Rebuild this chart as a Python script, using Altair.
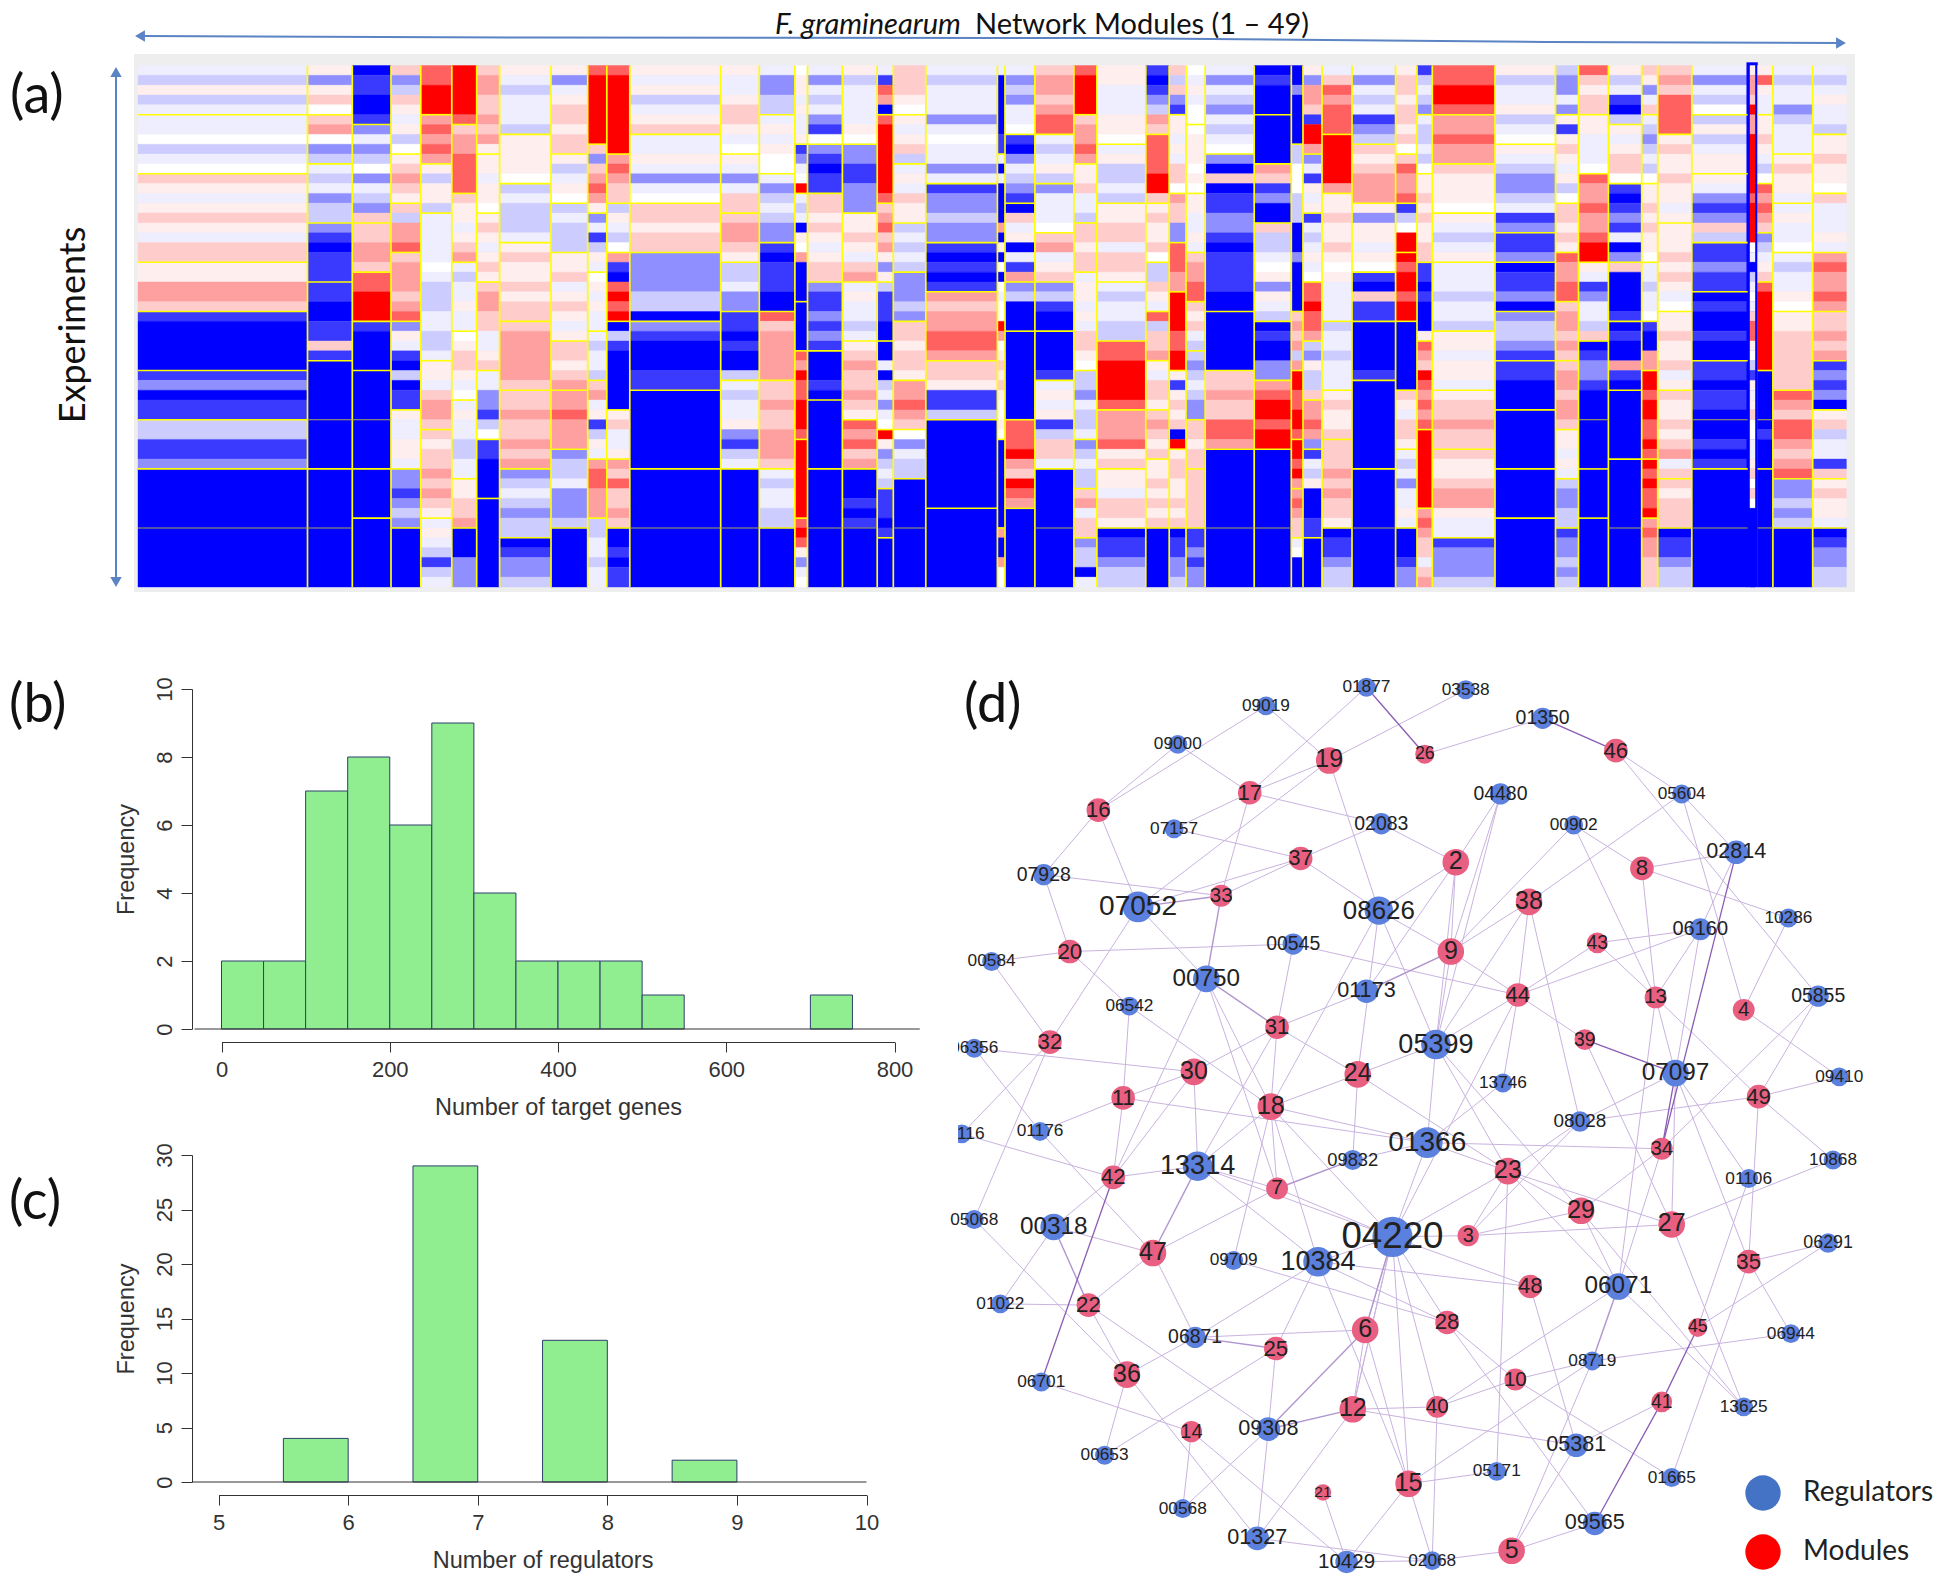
import math
import altair as alt
import pandas as pd

# ---------- (a) heat map: module boundaries and per-row expression levels ----------
MODULE_EDGES = [138, 307.5, 352.3, 391, 420.8, 451.8, 476.7, 499.6, 551, 587.7, 606.8, 629.8,
                720.7, 759.3, 794.9, 807.5, 842.4, 877.2, 893.3, 925.8, 997.4, 1005, 1034.9,
                1073.9, 1096.9, 1145.8, 1169.2, 1186, 1205.2, 1254.2, 1291.3, 1303, 1322, 1352,
                1395.6, 1417, 1432.3, 1495, 1555.5, 1578.5, 1608.4, 1641.7, 1657.7, 1691.8,
                1747.7, 1757.6, 1772.9, 1812.7, 1846.4]
THIN_MODULE = 44
THIN_CORE = [1750, 1755]
MODULE_ROWS = [
 "abpba|aawbaw|qpapqpaqq|ppssq|deeeee|dcedd|bbddc|eeeeee|eeeeee",
 "pcpqw|qswcb|abacbb|cdeddd|ddeeddqd|eeeeee|eeeee|eeeeee|eeeeee",
 "eddeed|cacbwcabcq|qqssq|ttuuu|deeee|eeeee|eeeee|eeeee|eeeeeee",
 "qcbqpapbw|pqsqp|qbsst|qsssqst|cpadebedd|paappa|ccdcbc|eeeeee",
 "ttuuu|ststs|pbppb|aaaaawabbbaabba|ppaqssq|qpqqsqsqp|apabdba",
 "uuuuut|qsstttt|qppapqs|abaapaa|wpqqpaw|apaabbaa|ppqqs|eeeccc",
 "qssqqsqsp|ppappw|pqpapqp|qssqqaapq|aaccdbw|ddeeee|eeeeeeeee",
 "pabaaab|ppppw|babbba|pqppqpqq|qsssssq|qqsqqsqs|cbabcbb|edccb",
 "pcapqqpqq|pbapw|babbb|ppqapqpap|qqpqs|sstsss|cbbacccb|eeeeee",
 "tuuuuuuu|qcqstsp|cadbpa|wpapaa|abaab|qsapdbpa|sttsss|bbaabaa",
 "tuuuuuuuu|stsqq|bpabw|sdetutu|ebdeeeeee|pqaap|sqtqqsq|eededd",
 "papbapq|aapacaw|qqpqq|ccccbbe|cdeeedd|eeeeeeee|eeeeee|eeeeee",
 "paapqqpaw|pacaqq|qssqp|bbacc|ddedeeb|abaapcdba|eeeeee|eeeeee",
 "accbb|apapww|acbabcc|dedddee|tqsssss|qqsqqsssq|abaabb|eeeeee",
 "wppapaap|dcawu|abaepwseeee|eeeee|tsuttuuut|uuuuuuuu|tutpcaw",
 "acabacdw|cdedd|qqpqpapqq|cddcdcd|eeede|eeeeeee|eeeeee|eeeeee",
 "pbaaaapw|ccddccc|ppqpaqs|apaaba|pqsqqsqp|tstqs|eeeded|eeeeee",
 "adtse|tuuuuuuut|qstqspcp|bdddee|eeaebacaw|upcbab|ddded|eeeee",
 "qqqpw|papqb|apaqpp|babab|cccbc|qqpqqp|sstsq|wcabb|eeeee|eeeeee",
 "abaaacawaaca|dccbcc|deded|sqsstts|qqpddb|eeeeeeeee|eeeeeeee",
 "aeeeeeedd|aeaeeeesepewewawwuswpqpqpwwpw|eeeeeeeee|seesww",
 "acbcaaw|decabcd|eqapeads|cbeee|eeeeeeeee|tttusquts|eeeeeeee",
 "qssqstt|abapb|caaaw|qsapq|cbdee|eeeed|apapdbqqa|eeeeee|eeeeee",
 "tuuuu|qssts|ppqaab|qqpqq|appapaqqpw|bbcabba|cbabb|qsaqq|cbbea",
 "ppaaappw|apbbab|ppqqaqqp|abaabb|ttuuuut|ssstpq|ppaqqp|eddcbb",
 "dedcbsq|ttttuuq|pqppqw|bbqpa|tbqqs|paqqp|qsqpq|ppqpqpq|eeeeee",
 "qbqcd|ppapaqqw|sqqcc|tttss|uuuuttuu|pdpqpqeu|pqqppqpq|eddccb",
 "wapaww|wpppwpw|ppaapa|qsstt|qpqab|bcbabcc|qqpqq|qqqqqq|ddcdcc",
 "acabcabaw|ceqeddccdeddddee|eeeeee|qqsqqtts|eeeeeeee|eeeeee",
 "edeee|eeeee|sqdcee|qbbawpcpab|edeecc|stuutuu|eeeeeeee|eeeeee",
 "eeceeeee|bbwwwbbbeeeceeeee|qsqsbs|uuttuut|uutus|stsqq|aweee",
 "pcssqduus|cadpap|dabapaw|ttutts|bcpbbq|sstsc|dabpeeedd|eeeee",
 "aqtsttt|uuuuus|ppqppqpwpaaaa|baabaaa|pqppq|qqqsqsqqp|eddcbb",
 "acabadcb|qpqsss|pcppapw|deqdd|eeeeed|eeeeeeeee|eeeeee|eeeeee",
 "pqqpqqpqw|qtsst|dbwuu|utuutuu|eeeeeee|qpaqqp|abacaapa|eeedcc",
 "dbabc|abbabw|ppqpqppqq|ddedeeep|tsqutstst|uuuuuuuu|stsqqaqs",
 "ttuut|sstss|qpppw|pabap|aaabaab|ppappa|pqqsqq|qppqsspaa|dcccb",
 "pbaapbaw|pabccbadc|ddc|eddce|cbbcd|ddeee|eeeeee|eeeee|eeeeeee",
 "bccac|pdpqpapbw|qqpqp|tsstt|qssqsq|qssqssq|ppapa|bccbb|dccbcb",
 "tqpqq|ppaaaw|tsstsstuu|padcaabq|edccdeee|eeeee|eeeee|eeeeeee",
 "pbadeb|papqqw|dedcdaec|qeeeed|edeesde|eeeeeee|eeeeeee|eeeeee",
 "qpcaq|abcbabw|ppqpqppw|aabaaw|deess|uutuuttut|ututtu|stssqqq",
 "qsqtttt|pqppqppap|pppqpqpaw|ppqppqap|qppqpqsaq|qpqqq|eddcbb",
 "acabw|bpbapp|pacdcqb|ddcdd|edeedee|ddedde|eeded|eeeeee|eeeeee",
 "pssqussuuuuuutuuuuwaebawaqttpwbdpapqwwaapqwqweeeeeeee",
 "ptpaa|ppqpabw|tstsq|cbapq|tuuuuuuuu|eeeee|edeee|eeeeee|eeeeee",
 "abaacbaaa|pqppa|apaaw|abaapw|ppqqqqqq|tsqttsqst|ccbcb|eeeeee",
 "abapaab|ppqppw|qaaapa|stssts|qqsqs|dcdce|pqbaadq|pqppa|edccbb",
]
LEVELS = list("wabcdepqstu")
LEVEL_COLORS = ["#ffffff", "#eeeeff", "#ccccff", "#8f8fff", "#3a3aff", "#0000ff",
                "#ffeeee", "#ffcccc", "#ffa0a0", "#ff6060", "#ff0000"]

# ---------- (b), (c) histograms ----------
GENE_BIN_START = [0, 50, 100, 150, 200, 250, 300, 350, 400, 450, 500, 700]
GENE_BIN_END = [50, 100, 150, 200, 250, 300, 350, 400, 450, 500, 550, 750]
GENE_FREQ = [2, 2, 7, 8, 6, 9, 4, 2, 2, 2, 1, 1]
REG_BIN_START = [5.5, 6.5, 7.5, 8.5]
REG_BIN_END = [6, 7, 8, 9]
REG_FREQ = [4, 29, 13, 2]

# ---------- (d) network: layout position and weight of every node ----------
REG_NAMES = ["09019","01877","03538","01350","09000","04480","05604","07157","02083","00902",
             "07928","02814","07052","08626","10286","06160","00584","00545","00750","01173",
             "05855","06542","05399","06356","13746","07097","09410","08028","01176","01116",
             "01366","13314","09832","10868","01106","05068","00318","04220","10384","09709",
             "06291","06071","01022","06871","06944","08719","06701","13625","09308","05381",
             "00653","05171","01665","00568","09565","01327","10429","02068"]
REG_X = [1020,1101,1181,1243,949,1209,1355,946,1113,1268,841,1399,917,1111,1441,1370,799,1042,972,1101,
         1465,910,1157,785,1211,1350,1482,1273,838,775,1150,965,1090,1477,1409,785,849,1122,1062,994,
         1473,1304,806,963,1443,1283,839,1405,1022,1270,890,1206,1347,953,1285,1013,1085,1154]
REG_Y = [569,554,556,579,600,640,640,668,664,665,705,687,731,734,740,749,775,761,789,799,
         803,811,842,845,873,865,868,904,912,914,921,940,935,935,950,983,989,997,1017,1016,
         1002,1037,1051,1078,1075,1097,1114,1134,1152,1165,1173,1186,1191,1216,1228,1240,1259,1258]
REG_W = [32,32,32,36,32,36,32,32,36,32,36,40,52,48,32,37,32,36,45,40,
         36,32,50,32,32,45,32,35,32,32,52,50,34,32,32,32,45,68,50,32,
         33,45,32,36,32,32,32,32,40,40,32,32,32,32,40,40,38,32]
MOD_NAMES = ["19","26","46","17","16","37","2","8","33","38","9","20","43","44","13","4","31","39",
             "32","30","24","11","18","49","34","42","23","7","29","27","3","47","48","35","22","6",
             "28","45","25","36","10","12","40","41","14","21","15","5"]
MOD_X = [1071,1148,1302,1007,885,1048,1173,1323,984,1232,1169,862,1287,1223,1334,1405,1029,1277,
         846,962,1094,905,1024,1417,1339,897,1215,1029,1274,1347,1183,929,1233,1409,877,1100,
         1166,1368,1028,908,1221,1090,1158,1339,960,1066,1135,1218]
MOD_Y = [613,608,605,639,653,692,695,700,722,727,767,767,760,802,804,814,828,838,
         840,864,866,885,892,884,926,949,944,958,976,987,996,1010,1037,1017,1052,1072,
         1066,1070,1087,1108,1112,1136,1134,1130,1154,1203,1196,1250]
MOD_W = [45,32,40,40,40,40,45,40,37,45,45,40,35,40,37,37,40,35,
         40,45,45,40,45,40,37,40,45,37,45,45,36,45,40,40,40,45,
         40,32,40,45,37,45,37,35,36,28,45,45]
EDGES = """19-09019 19-03538 19-17 19-07052 19-08626 17-09000 17-01877 17-07157 17-02083 17-33
16-09000 16-09019 16-07928 16-07052 26-01350 46-05604 46-05855 37-07157 37-02083 37-07052 37-08626
2-02083 2-08626 2-04480 2-9 2-01173 2-05399 33-07928 33-37 20-07928 20-00584 20-00545 20-06542
32-00584 32-07052 32-01116 32-05068 06356-30 06356-01176 11-01176 11-30 11-06542 11-01366 11-42
30-31 30-13314 30-42 00750-07052 00750-42 00750-18 00750-7 31-00545 31-01173 31-24 31-13314 31-18
06542-18 24-18 24-08626 24-05399 24-23 24-09832 18-01366 18-04220 18-7 18-13314 00545-44 01173-9
08626-9 08626-05399 08626-18 05399-9 05399-44 05399-38 05399-23 05399-29 05399-01366 05399-04480
9-38 9-00902 9-04480 9-44 38-05604 38-44 38-08028 43-06160 43-44 43-13 44-06160 44-13746 44-04220
13-00902 13-8 13-06160 13-07097 13-49 13-06071 8-00902 8-02814 8-10286 4-05604 4-10286 4-09410
39-44 39-27 49-05855 49-09410 49-08028 49-35 49-10868 07097-06160 07097-08028 07097-27
07097-01106 07097-35 05855-34 02814-05604 02814-06160 10868-27 01106-45 34-01366 34-29 34-06071
23-01366 23-08028 23-29 23-27 23-06071 23-04220 23-3 23-05171 3-29 3-27 3-04220 3-08028 29-06071
29-13625 27-13625 48-04220 48-05381 35-06291 35-06944 35-01665 45-06291 06071-40 06071-13625
10-28 10-08719 10-01665 10-40 28-09565 28-04220 28-10384 28-09709 41-05381 08719-06944 08719-5
08719-15 05381-5 05381-12 05171-15 40-04220 40-02068 40-12 15-04220 15-6 15-10429 15-02068 15-10384
12-6 12-01327 12-04220 25-10384 25-09308 25-00653 36-06871 36-00653 36-22 36-01327 14-06701
14-00568 14-10429 21-10429 22-01022 22-47 22-09308 47-00318 47-7 47-06871 47-01176 42-01116 42-13314
42-00318 05068-36 01022-00318 00568-09308 09308-01327 01327-02068 10429-02068 5-02068 5-09565
09709-18 10384-13314 10384-04220 10384-18 10384-06871 10384-48 7-04220 09832-01366 13746-01366
04220-01366 04220-6 04220-12 06871-6 13314-7 13314-04220""".split()
DOUBLE_EDGES = """33-07052 33-00750 31-00750 06071-08719 22-00318 47-13314 7-09832 25-06871 12-09308
6-09308 6-04220 01173-9""".split()
STRONG_EDGES = """26-01877 46-01350 39-07097 02814-34 07097-34 45-41 41-09565 42-06701""".split()

REG_COLOR, MOD_COLOR = "#5b80de", "#e85f82"
AXIS_COLOR, TEXT_COLOR = "#333333", "#222222"
ARROW_COLOR = "#5b84c4"
SANS = "Liberation Sans"
HEAD = "Lato"
W, H = 1930, 1567
M = 8  # page margin


def sx(lo, hi, a, b):
    return alt.Scale(domain=[lo, hi], range=[a - M, b - M], nice=False, zero=False)


REF_X = sx(0, 1568, 0, 1946)
REF_Y = sx(0, 1276, 0, 1583)
ROW_Y = sx(0, 53, 65.5, 587)
PIX_X = sx(0, 1946, 0, 1946)
PIX_Y = sx(0, 1583, 0, 1583)

# ---------- build heat map tables ----------
cells, hlines = [], []
for i, spec in enumerate(MODULE_ROWS):
    x0, x1 = MODULE_EDGES[i], MODULE_EDGES[i + 1]
    if i == THIN_MODULE:
        cells.append(dict(x=x0 - 1, x2=x1, r=-0.3, r2=53, lv="e"))
        x0, x1 = THIN_CORE
    row = 0
    flat = spec.replace("|", "")
    for seg in spec.split("|"):
        j = 0
        while j < len(seg):
            k = j
            while k < len(seg) and seg[k] == seg[j]:
                k += 1
            cells.append(dict(x=x0, x2=x1, r=row + j, r2=row + k, lv=seg[j]))
            j = k
        row += len(seg)
        if row < 53 and i != THIN_MODULE:
            solid = flat[row - 1] in "de" and flat[row] in "de"
            hlines.append(dict(x=x0, x2=x1, r=row, faint="y" if solid and row in (36, 47) else "n"))
cells = pd.DataFrame(cells)
hlines = pd.DataFrame(hlines)
vlines = pd.DataFrame(dict(x=[e for n, e in enumerate(MODULE_EDGES) if 0 < n < len(MODULE_EDGES) - 1
                              and n not in (THIN_MODULE, THIN_MODULE + 1)]))
vlines["r"] = 0
vlines["r2"] = 53

layers = []

# panel background
layers.append(alt.Chart(pd.DataFrame(dict(x=[134], x2=[1855], y=[54], y2=[592]))).mark_rect(color="#eeeeee").encode(
    x=alt.X("x:Q", scale=PIX_X, axis=None), x2="x2:Q", y=alt.Y("y:Q", scale=PIX_Y, axis=None), y2="y2:Q"))
level_scale = alt.Scale(domain=LEVELS, range=LEVEL_COLORS)
layers.append(alt.Chart(cells).mark_rect(strokeWidth=0.4).encode(
    x=alt.X("x:Q", scale=PIX_X, axis=None), x2="x2:Q",
    y=alt.Y("r:Q", scale=ROW_Y, axis=None), y2="r2:Q",
    color=alt.Color("lv:N", scale=level_scale, legend=None),
    stroke=alt.Stroke("lv:N", scale=level_scale, legend=None)))
layers.append(alt.Chart(vlines).mark_rule(color="#ffff00", strokeWidth=1.7).encode(
    x=alt.X("x:Q", scale=PIX_X, axis=None),
    y=alt.Y("r:Q", scale=ROW_Y, axis=None), y2="r2:Q"))
for flag, col, sw in (("n", "#ffff00", 1.6), ("y", "#a8a850", 1.1)):
    layers.append(alt.Chart(hlines[hlines["faint"] == flag]).mark_rule(color=col, strokeWidth=sw).encode(
        x=alt.X("x:Q", scale=PIX_X, axis=None), x2="x2:Q",
        y=alt.Y("r:Q", scale=ROW_Y, axis=None)))

# arrows
arrow_h = pd.DataFrame(dict(x=[142, 535, 1090, 1545, 1838], y=[36, 37.5, 38, 42, 43]))
arrow_v = pd.DataFrame(dict(x=[116, 116], y=[72, 582]))
for d in (arrow_h, arrow_v):
    layers.append(alt.Chart(d).mark_line(color=ARROW_COLOR, strokeWidth=2).encode(
        x=alt.X("x:Q", scale=PIX_X, axis=None), y=alt.Y("y:Q", scale=PIX_Y, axis=None)))
heads = [("triangle-left", 140, 36), ("triangle-right", 1841, 43), ("triangle-up", 116, 72), ("triangle-down", 116, 582)]
for shape, hx, hy in heads:
    layers.append(alt.Chart(pd.DataFrame(dict(x=[hx], y=[hy]))).mark_point(
        shape=shape, filled=True, size=130, color=ARROW_COLOR, opacity=1).encode(
        x=alt.X("x:Q", scale=PIX_X, axis=None), y=alt.Y("y:Q", scale=PIX_Y, axis=None)))

# big texts
def label(text, x, y, size, font=HEAD, align="left", angle=None, style="normal", weight="normal", color="#111111"):
    kw = dict(text=text, font=font, fontSize=size, align=align, baseline="middle", fontStyle=style,
              fontWeight=weight, color=color)
    if angle is not None:
        kw["angle"] = angle
    return alt.Chart(pd.DataFrame(dict(x=[x], y=[y]))).mark_text(**kw).encode(
        x=alt.X("x:Q", scale=PIX_X, axis=None), y=alt.Y("y:Q", scale=PIX_Y, axis=None))

layers += [
    label("F. graminearum", 775, 25, 29, style="italic"),
    label("Network Modules (1 – 49)", 975, 25, 29),
    label("Experiments", 74, 325, 36, align="center", angle=270),
    label("(a)", 10, 97, 54),
    label("(b)", 9, 706, 54),
    label("(c)", 9, 1203, 54),
    label("(d)", 964, 706, 54),
]

# histograms
def hist(starts, ends, freq, xdom, xr, ydom, yr, ax_x, ax_y, xvals, yvals, xtitle, base):
    sxx = sx(xdom[0], xdom[1], xr[0], xr[1])
    syy = sx(ydom[0], ydom[1], yr[0], yr[1])
    d = pd.DataFrame(dict(a=starts, b=ends, f=freq, z=[0] * len(freq)))
    ax = alt.Axis(values=xvals, title=xtitle, offset=ax_y - M - H, grid=False, tickSize=10, tickColor=AXIS_COLOR,
                  domainColor=AXIS_COLOR, labelColor=AXIS_COLOR, titleColor=AXIS_COLOR, labelFont=SANS,
                  titleFont=SANS, labelFontSize=22, titleFontSize=23.5, titleFontWeight="normal", labelPadding=7,
                  titlePadding=15, labelFlush=False, labelOverlap=False, orient="bottom")
    ay = alt.Axis(values=yvals, title="Frequency", offset=-(ax_x - M), grid=False, tickSize=11, tickColor=AXIS_COLOR,
                  domainColor=AXIS_COLOR, labelColor=AXIS_COLOR, titleColor=AXIS_COLOR, labelFont=SANS,
                  titleFont=SANS, labelFontSize=22, titleFontSize=23.5, titleFontWeight="normal", labelAngle=270,
                  labelAlign="center", labelBaseline="bottom", labelPadding=5, titlePadding=15, labelFlush=False,
                  labelOverlap=False, orient="left")
    bars = alt.Chart(d).mark_rect(fill="#90ee90", stroke="#2f3f6f", strokeWidth=1).encode(
        x=alt.X("a:Q", scale=sxx, axis=ax), x2="b:Q",
        y=alt.Y("f:Q", scale=syy, axis=ay), y2="z:Q")
    rule = alt.Chart(pd.DataFrame(dict(a=[base[0]], b=[base[1]], z=[0]))).mark_rule(color=AXIS_COLOR, strokeWidth=1).encode(
        x=alt.X("a:Q", scale=sxx, axis=None), x2="b:Q", y=alt.Y("z:Q", scale=syy, axis=None))
    return [bars, rule]

layers += hist(GENE_BIN_START, GENE_BIN_END, GENE_FREQ, [0, 800], [221.5, 894.5], [0, 10], [1029, 689], 192, 1042,
               [0, 200, 400, 600, 800], [0, 2, 4, 6, 8, 10], "Number of target genes", (-32, 830))
layers += hist(REG_BIN_START, REG_BIN_END, REG_FREQ, [5, 10], [218.6, 866.5], [0, 30], [1482, 1155], 192, 1495,
               [5, 6, 7, 8, 9, 10], [0, 5, 10, 15, 20, 25, 30], "Number of regulators", (4.8, 10))

# network
pos = {}
for n, x, y in zip(REG_NAMES + MOD_NAMES, REG_X + MOD_X, REG_Y + MOD_Y):
    pos[n] = (x, y)

def edge_frame(pairs):
    rows = []
    for p in pairs:
        a, b = p.split("-")
        rows.append(dict(x=pos[a][0], y=pos[a][1], x2=pos[b][0], y2=pos[b][1]))
    return pd.DataFrame(rows)

for pairs, col, sw in ((EDGES, "#c9b3df", 1.0), (DOUBLE_EDGES, "#b095cf", 1.4), (STRONG_EDGES, "#8a5db5", 1.3)):
    layers.append(alt.Chart(edge_frame(pairs)).mark_rule(color=col, strokeWidth=sw).encode(
        x=alt.X("x:Q", scale=REF_X, axis=None), y=alt.Y("y:Q", scale=REF_Y, axis=None), x2="x2:Q", y2="y2:Q"))

nodes = pd.DataFrame(dict(
    name=REG_NAMES + MOD_NAMES, x=REG_X + MOD_X, y=REG_Y + MOD_Y, w=REG_W + MOD_W,
    kind=["reg"] * len(REG_NAMES) + ["mod"] * len(MOD_NAMES)))
nodes["area"] = [math.pi * (v / 3) ** 2 for v in nodes["w"]]
nodes["font"] = [v * (0.54 if k == "reg" else 0.555) for v, k in zip(nodes["w"], nodes["kind"])]
layers.append(alt.Chart(nodes).mark_circle(opacity=1).encode(
    x=alt.X("x:Q", scale=REF_X, axis=None), y=alt.Y("y:Q", scale=REF_Y, axis=None),
    size=alt.Size("area:Q", scale=None, legend=None),
    fill=alt.Fill("kind:N", scale=alt.Scale(domain=["reg", "mod"], range=[REG_COLOR, MOD_COLOR]), legend=None)))
layers.append(alt.Chart(nodes).mark_text(font=SANS, color=TEXT_COLOR, baseline="middle", align="center").encode(
    x=alt.X("x:Q", scale=REF_X, axis=None), y=alt.Y("y:Q", scale=REF_Y, axis=None),
    text="name:N", size=alt.Size("font:Q", scale=None, legend=None)))
# the source image crops the network's left border
layers.append(alt.Chart(pd.DataFrame(dict(x=[925], x2=[958], y=[1030], y2=[1150]))).mark_rect(color="white").encode(
    x=alt.X("x:Q", scale=PIX_X, axis=None), x2="x2:Q", y=alt.Y("y:Q", scale=PIX_Y, axis=None), y2="y2:Q"))

# legend of the network
legend = pd.DataFrame(dict(x=[1763, 1763], y=[1493, 1552], n=["Regulators", "Modules"]))
layers.append(alt.Chart(legend).mark_circle(opacity=1, size=1250).encode(
    x=alt.X("x:Q", scale=PIX_X, axis=None), y=alt.Y("y:Q", scale=PIX_Y, axis=None),
    fill=alt.Fill("n:N", scale=alt.Scale(domain=["Regulators", "Modules"], range=["#4472c4", "#ff0000"]), legend=None)))
layers.append(alt.Chart(legend).mark_text(font=HEAD, fontSize=28, align="left", baseline="middle", color="#222222", dx=40).encode(
    x=alt.X("x:Q", scale=PIX_X, axis=None), y=alt.Y("y:Q", scale=PIX_Y, axis=None), text="n:N"))

chart = alt.layer(*layers).resolve_scale(
    x="independent", y="independent", color="independent", fill="independent", stroke="independent"
).properties(width=W, height=H, padding=0, autosize="none", background="white").configure_view(stroke=None)

chart.save("out.html", embed_options={"renderer": "svg", "actions": False})
